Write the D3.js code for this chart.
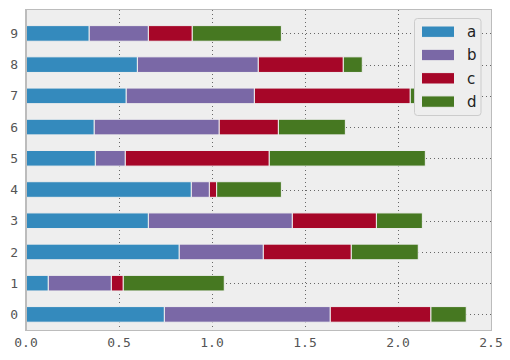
<!DOCTYPE html>
<html>
<head>
<meta charset="utf-8">
<script src="https://cdn.jsdelivr.net/npm/d3@7"></script>
<style>
  body { margin: 0; background: #fff; }
  svg { display: block; }
</style>
</head>
<body>
<svg id="chart"></svg>
<script>
// stacked barh, values
var rows = [0, 1, 2, 3, 4, 5, 6, 7, 8, 9];
var seriesNames = ["a", "b", "c", "d"];
var colors = ["#348ABD", "#7A68A6", "#A60628", "#467821"];

var a = [0.744, 0.120, 0.824, 0.658, 0.889, 0.373, 0.367, 0.539, 0.599, 0.340];
var b = [0.892, 0.339, 0.452, 0.774, 0.097, 0.161, 0.672, 0.689, 0.650, 0.318];
var c = [0.541, 0.064, 0.473, 0.452, 0.039, 0.774, 0.318, 0.838, 0.457, 0.236];
var d = [0.190, 0.543, 0.360, 0.247, 0.348, 0.839, 0.360, 0.200, 0.102, 0.479];

var xTicks = [0, 0.5, 1.0, 1.5, 2.0, 2.5];

const W = 510, H = 360;
const margin = { top: 10, right: 19, bottom: 30, left: 26 };
const svg = d3.select("#chart").attr("width", W).attr("height", H);

var x = d3.scaleLinear().domain([0, 2.5]).range([margin.left, W - margin.right]);
var y = d3.scaleLinear().domain([-0.5, 9.75]).range([H - margin.bottom, margin.top]);
var barH = y(0) - y(0.5);

// table for d3.stack
var table = rows.map(function (r, i) {
  return { row: r, a: a[i], b: b[i], c: c[i], d: d[i] };
});
var stacked = d3.stack().keys(seriesNames)(table);

// background
svg.append("rect")
  .attr("x", x(0)).attr("y", y(9.75))
  .attr("width", x(2.5) - x(0)).attr("height", y(-0.5) - y(9.75))
  .attr("fill", "#eeeeee");

// grid
var grid = svg.append("g").attr("stroke", "#444").attr("stroke-width", 0.8)
  .attr("stroke-dasharray", "1,3");
grid.selectAll("line.v").data(xTicks.slice(1, -1)).enter().append("line")
  .attr("x1", d => Math.round(x(d)) + 0.5).attr("x2", d => Math.round(x(d)) + 0.5)
  .attr("y1", y(9.75)).attr("y2", y(-0.5));
grid.selectAll("line.h").data(rows).enter().append("line")
  .attr("y1", d => Math.round(y(d)) + 0.5).attr("y2", d => Math.round(y(d)) + 0.5)
  .attr("x1", x(0)).attr("x2", x(2.5));

// bars
svg.selectAll("g.layer").data(stacked).enter().append("g")
  .attr("class", "layer")
  .attr("fill", (s, i) => colors[i])
  .selectAll("rect").data(s => s).enter().append("rect")
  .attr("x", p => x(p[0]))
  .attr("width", p => x(p[1]) - x(p[0]))
  .attr("y", p => y(p.data.row) - barH / 2)
  .attr("height", barH)
  .attr("stroke", "#eeeeee")
  .attr("stroke-width", 1);

// frame
svg.append("rect")
  .attr("x", x(0) - 0.5).attr("y", y(9.75) - 0.5)
  .attr("width", x(2.5) - x(0) + 1).attr("height", y(-0.5) - y(9.75) + 1)
  .attr("fill", "none").attr("stroke", "#bcbcbc").attr("stroke-width", 1);
svg.append("line")
  .attr("x1", x(0)).attr("x2", x(0))
  .attr("y1", y(9.75)).attr("y2", y(-0.5))
  .attr("stroke", "#bcbcbc").attr("stroke-width", 2);

// tick labels
var tickFont = "'DejaVu Sans Mono', monospace";
svg.append("g").selectAll("text").data(xTicks).enter().append("text")
  .attr("x", d => x(d)).attr("y", 347)
  .attr("text-anchor", "middle")
  .attr("font-family", tickFont).attr("font-size", 13)
  .attr("fill", "#555")
  .text(d => d3.format(".1f")(d));
svg.append("g").selectAll("text").data(rows).enter().append("text")
  .attr("x", 18).attr("y", d => y(d)).attr("dy", "0.35em")
  .attr("text-anchor", "end")
  .attr("font-family", tickFont).attr("font-size", 13)
  .attr("fill", "#555")
  .text(d => d);

// legend
var lg = svg.append("g");
lg.append("rect")
  .attr("x", 414.5).attr("y", 18.5).attr("width", 66.5).attr("height", 97)
  .attr("rx", 3).attr("ry", 3)
  .attr("fill", "#eeeeee").attr("stroke", "#cccccc").attr("stroke-width", 1);
var item = lg.selectAll("g.item").data(seriesNames).enter().append("g")
  .attr("transform", (s, i) => "translate(0," + (31.7 + i * 23.3) + ")");
item.append("rect")
  .attr("x", 421.5).attr("y", -5.7).attr("width", 33).attr("height", 11.4)
  .attr("fill", (s, i) => colors[i])
  .attr("stroke", "#eeeeee").attr("stroke-width", 1);
item.append("text")
  .attr("x", 467).attr("dy", "0.35em")
  .attr("font-family", "'DejaVu Sans', sans-serif").attr("font-size", 15)
  .attr("fill", "#222")
  .text(s => s);
</script>
</body>
</html>
